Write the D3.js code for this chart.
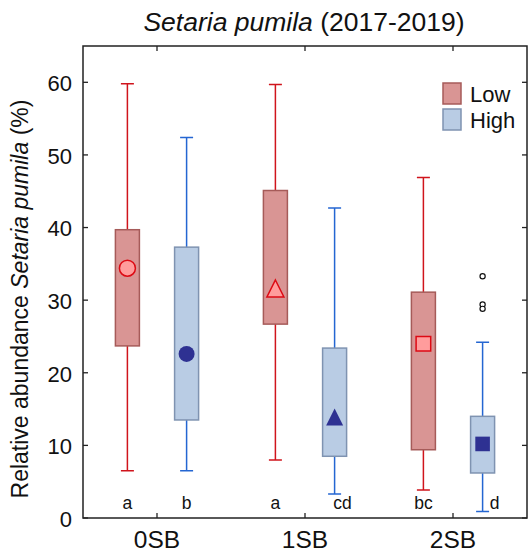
<!DOCTYPE html>
<meta charset="utf-8">
<style>
body { margin: 0; background: #fff; }
svg { display: block; font-family: "Liberation Sans", Arial, sans-serif; }
.frame { fill: none; stroke: #222; stroke-width: 1.5px; }
.tick { stroke: #222; stroke-width: 1.3px; }
</style>
<svg width="528" height="552"></svg>
<script src="https://cdn.jsdelivr.net/npm/d3@7"></script>
<script>

// data
var categories = ["0SB", "1SB", "2SB"];
var levels = ["Low", "High"];
var yTicks = [0, 10, 20, 30, 40, 50, 60];

var lowMin  = [6.5, 8.0, 3.85];
var lowQ1   = [23.7, 26.7, 9.4];
var lowQ3   = [39.7, 45.1, 31.1];
var lowMax  = [59.8, 59.7, 46.9];
var lowMean = [34.4, 31.6, 24.0];

var highMin  = [6.5, 3.3, 0.9];
var highQ1   = [13.5, 8.5, 6.2];
var highQ3   = [37.3, 23.4, 14.0];
var highMax  = [52.4, 42.7, 24.2];
var highMean = [22.6, 13.9, 10.2];

var highOutliers = [[], [], [33.3, 29.4, 28.8]];

var lowLetters  = ["a", "a", "bc"];
var highLetters = ["b", "cd", "d"];

var markerShapes = ["circle", "triangle", "square"];

var svg = d3.select("svg");

var x = d3.scaleLinear().domain([0.5, 3.5]).range([83, 527]);
var y = d3.scaleLinear().domain([0, 65]).range([518, 46]);

var styles = {
  Low:  { fill: "#d99594", stroke: "#a65b59", whisker: "#d0141c", mFill: "#ff9c9c", mStroke: "#dd0a14", off: -0.2 },
  High: { fill: "#b9cce4", stroke: "#7f93b1", whisker: "#2466d2", mFill: "#2e3192", mStroke: "#2e3192", off: 0.2 }
};

var boxes = [];
categories.forEach(function(c, i) {
  boxes.push({ level: "Low", i: i, min: lowMin[i], q1: lowQ1[i], q3: lowQ3[i], max: lowMax[i], mean: lowMean[i], letter: lowLetters[i], out: [] });
  boxes.push({ level: "High", i: i, min: highMin[i], q1: highQ1[i], q3: highQ3[i], max: highMax[i], mean: highMean[i], letter: highLetters[i], out: highOutliers[i] });
});

var boxW = 24, capW = 13;
function cx(d) { return x(d.i + 1 + styles[d.level].off); }

var g = svg.append("g");

// whiskers
g.selectAll(".wl").data(boxes).enter().append("path")
  .attr("fill", "none")
  .attr("stroke", function(d) { return styles[d.level].whisker; })
  .attr("stroke-width", 1.5)
  .attr("d", function(d) {
    var c = cx(d);
    return "M" + (c - capW / 2) + "," + y(d.max) + "H" + (c + capW / 2) +
      "M" + c + "," + y(d.max) + "V" + y(d.min) +
      "M" + (c - capW / 2) + "," + y(d.min) + "H" + (c + capW / 2);
  });

// boxes
g.selectAll(".box").data(boxes).enter().append("rect")
  .attr("x", function(d) { return cx(d) - boxW / 2; })
  .attr("y", function(d) { return y(d.q3); })
  .attr("width", boxW)
  .attr("height", function(d) { return y(d.q1) - y(d.q3); })
  .attr("fill", function(d) { return styles[d.level].fill; })
  .attr("stroke", function(d) { return styles[d.level].stroke; })
  .attr("stroke-width", 1.5);

// mean markers
function markerPath(shape) {
  if (shape === "circle") return "M8,0A8,8 0 1,1 -8,0A8,8 0 1,1 8,0Z";
  if (shape === "triangle") return "M0,-8.5L8.5,8.5L-8.5,8.5Z";
  return "M-7.3,-7.3H7.3V7.3H-7.3Z";
}
g.selectAll(".mean").data(boxes).enter().append("path")
  .attr("transform", function(d) { return "translate(" + cx(d) + "," + y(d.mean) + ")"; })
  .attr("d", function(d) { return markerPath(markerShapes[d.i]); })
  .attr("fill", function(d) { return styles[d.level].mFill; })
  .attr("stroke", function(d) { return styles[d.level].mStroke; })
  .attr("stroke-width", function(d) { return d.level === "Low" ? 1.5 : 0; });

// outliers
boxes.forEach(function(d) {
  d.out.forEach(function(v) {
    g.append("circle")
      .attr("cx", cx(d))
      .attr("cy", y(v))
      .attr("r", 2.6)
      .attr("fill", "#fff")
      .attr("stroke", "#111")
      .attr("stroke-width", 1.2);
  });
});

// significance letters
var letterShift = { "1-High": 8, "2-High": 12 };
g.selectAll(".letter").data(boxes).enter().append("text")
  .attr("x", function(d) { return cx(d) + (letterShift[d.i + "-" + d.level] || 0); })
  .attr("y", 509)
  .attr("text-anchor", "middle")
  .attr("font-size", 17.5)
  .attr("fill", "#111")
  .text(function(d) { return d.letter; });

// frame
svg.append("rect").attr("class", "frame")
  .attr("x", 83).attr("y", 46).attr("width", 444).attr("height", 472);

// y ticks (inside, left and right)
yTicks.forEach(function(t) {
  svg.append("line").attr("class", "tick")
    .attr("x1", 83).attr("x2", 88).attr("y1", y(t)).attr("y2", y(t));
  svg.append("line").attr("class", "tick")
    .attr("x1", 522).attr("x2", 527).attr("y1", y(t)).attr("y2", y(t));
  svg.append("text")
    .attr("x", 72).attr("y", y(t)).attr("dy", "0.4em")
    .attr("text-anchor", "end")
    .attr("font-size", 22)
    .attr("fill", "#111")
    .text(t);
});

// x ticks (inside, top and bottom)
categories.forEach(function(c, i) {
  var px = x(i + 1);
  svg.append("line").attr("class", "tick")
    .attr("x1", px).attr("x2", px).attr("y1", 46).attr("y2", 51);
  svg.append("line").attr("class", "tick")
    .attr("x1", px).attr("x2", px).attr("y1", 513).attr("y2", 518);
  svg.append("text")
    .attr("x", px).attr("y", 548)
    .attr("text-anchor", "middle")
    .attr("font-size", 24.5)
    .attr("fill", "#111")
    .text(c);
});

// title
var title = svg.append("text")
  .attr("x", 304).attr("y", 31)
  .attr("text-anchor", "middle")
  .attr("font-size", 26.5)
  .attr("fill", "#111");
title.append("tspan").attr("font-style", "italic").text("Setaria pumila");
title.append("tspan").text(" (2017-2019)");

// y label
var ylab = svg.append("text")
  .attr("transform", "translate(28,299) rotate(-90)")
  .attr("text-anchor", "middle")
  .attr("font-size", 23)
  .attr("fill", "#111");
ylab.append("tspan").text("Relative abundance ");
ylab.append("tspan").attr("font-style", "italic").text("Setaria pumila");
ylab.append("tspan").text(" (%)");

// legend
levels.forEach(function(l, i) {
  var top = 83 + i * 26;
  svg.append("rect")
    .attr("x", 443).attr("y", top).attr("width", 18).attr("height", 21)
    .attr("fill", styles[l].fill)
    .attr("stroke", styles[l].stroke)
    .attr("stroke-width", 1.5);
  svg.append("text")
    .attr("x", 470).attr("y", top + 19)
    .attr("font-size", 22)
    .attr("fill", "#111")
    .text(l);
});

</script>
